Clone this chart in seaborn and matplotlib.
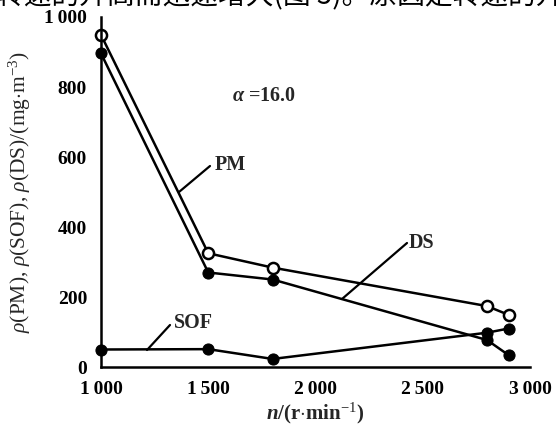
import matplotlib
matplotlib.use("Agg")
import matplotlib.pyplot as plt
import seaborn as sns
import pandas as pd

# ---- data ----
speed = [1000, 1500, 1800, 2800, 2900]
pm = [949, 325, 284, 174, 149]
ds = [896, 270, 250, 77, 34]
sof = [50, 51, 23, 98, 110]
x_ticks = [1000, 1500, 2000, 2500, 3000]
x_tick_labels = ["1\u2009000", "1\u2009500", "2\u2009000", "2\u2009500", "3\u2009000"]
y_ticks = [0, 200, 400, 600, 800, 1000]
y_tick_labels = ["0", "200", "400", "600", "800", "1\u2009000"]

sns.set_style("white")
plt.rcParams["font.family"] = ["Liberation Serif", "DejaVu Serif"]
plt.rcParams["mathtext.fontset"] = "custom"
plt.rcParams["mathtext.rm"] = "Liberation Serif"
plt.rcParams["mathtext.it"] = "Liberation Serif:italic"
plt.rcParams["mathtext.bf"] = "Liberation Serif:bold"
plt.rcParams["mathtext.bfit"] = "Liberation Serif:italic:bold"

W, H = 556, 425
fig = plt.figure(figsize=(W / 100, H / 100), dpi=100)
ax = fig.add_axes([101 / W, 58 / H, 429 / W, 350 / H])

df = pd.DataFrame({"n": speed, "PM": pm, "DS": ds, "SOF": sof})

common = dict(color="black", linewidth=1.8, markersize=8, clip_on=False, ax=ax)
sns.lineplot(data=df, x="n", y="PM", marker="o", markerfacecolor="white",
             markeredgecolor="black", markeredgewidth=1.8, **common)
sns.lineplot(data=df, x="n", y="DS", marker="o", markerfacecolor="black",
             markeredgecolor="black", **common)
sns.lineplot(data=df, x="n", y="SOF", marker="o", markerfacecolor="black",
             markeredgecolor="black", **common)

ax.set_xlim(1000, 3000)
ax.set_ylim(0, 1000)
ax.set_xticks(x_ticks)
ax.set_xticklabels(x_tick_labels, fontsize=14, fontweight="bold")
ax.set_xticks([1250, 1750, 2250, 2750], minor=True)
ax.set_yticks(y_ticks)
ax.set_yticklabels(y_tick_labels, fontsize=14, fontweight="bold")
ax.tick_params(axis="both", which="both", direction="in", length=6, width=1.6,
               colors="black")
ax.tick_params(axis="x", which="major", pad=10)
ax.tick_params(axis="y", which="major", pad=10)
for s in ["top", "right"]:
    ax.spines[s].set_visible(False)
for s in ["left", "bottom"]:
    ax.spines[s].set_linewidth(1.8)
    ax.spines[s].set_color("black")

ax.set_xlabel(r"$\mathbfit{n}$/(r$\cdot$min$^{-1}$)", fontsize=15, fontweight="bold",
              labelpad=2)
ax.set_ylabel(r"$\mathit{\rho}$(PM), $\mathit{\rho}$(SOF), $\mathit{\rho}$(DS)/(mg$\cdot$m$^{-3}$)",
              fontsize=15.5, labelpad=8)

# annotations with leader lines (pixel-based positions converted to data)
def px2data(px, py):
    return ax.transData.inverted().transform(fig.transFigure.transform((px / W, 1 - py / H)))

def label(text, txy, lxy_start, lxy_end):
    x0, y0 = px2data(*lxy_start)
    x1, y1 = px2data(*lxy_end)
    ax.plot([x0, x1], [y0, y1], color="black", lw=1.6, clip_on=False)
    tx, ty = px2data(*txy)
    ax.text(tx, ty, text, fontsize=14.5, fontweight="bold", ha="left", va="center")

label("PM", (215, 165), (210, 166), (179, 192))
label("DS", (409, 243), (407, 243), (342, 299))
label("SOF", (174, 323), (170, 325), (147, 350))

ax_x, ax_y = px2data(232, 96)
ax.text(ax_x, ax_y, r"$\mathbfit{\alpha}$ =16.0", fontsize=14.5, fontweight="bold",
        ha="left", va="center")

# cut-off line of body text at the very top
fig.text(-4 / W, 1.0 + 4 / H, "转速的升高而迅速增大(图 5)。原因是转速的升",
         fontsize=20, family=["Noto Sans CJK SC", "DejaVu Sans"],
         ha="left", va="center", color="black")

fig.savefig("out.png", dpi=100)
